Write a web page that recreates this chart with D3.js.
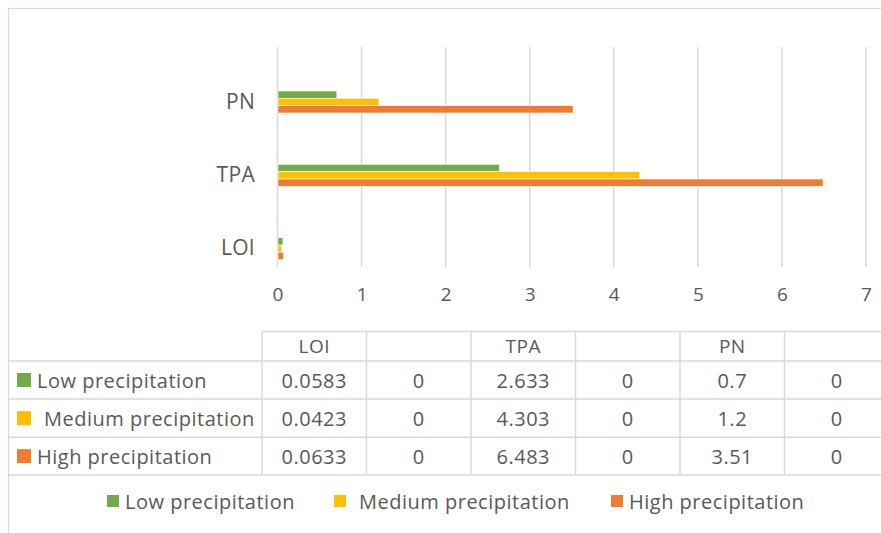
<!DOCTYPE html>
<html>
<head>
<meta charset="utf-8">
<script src="https://cdn.jsdelivr.net/npm/d3@7/dist/d3.min.js"></script>
<style>
  html, body { margin: 0; padding: 0; background: #fff; }
  svg { display: block; }
  text { font-family: "Open Sans", sans-serif; fill: #595959; }
</style>
</head>
<body>
<svg id="chart" width="881" height="533"></svg>
<script>
// ---- data ----
const categories = ["LOI", "", "TPA", "", "PN", ""];
const seriesNames = ["Low precipitation", "Medium precipitation", "High precipitation"];
const lowValues = [0.0583, 0, 2.633, 0, 0.7, 0];
const mediumValues = [0.0423, 0, 4.303, 0, 1.2, 0];
const highValues = [0.0633, 0, 6.483, 0, 3.51, 0];
const xTicks = [0, 1, 2, 3, 4, 5, 6, 7];
const seriesColors = ["#70AD47", "#FFC000", "#ED7D31"];

const seriesValues = [lowValues, mediumValues, highValues];
const catKeys = categories.map((c, i) => i + ":" + c);

const svg = d3.select("#chart");
const FS = "20px", LS = "0.5px";

// outer chart border
svg.append("rect").attr("x", 8.5).attr("y", 8.5).attr("width", 900).attr("height", 560)
  .attr("fill", "none").attr("stroke", "#D9D9D9").attr("stroke-width", 1.2);

// scales
const x = d3.scaleLinear().domain([0, 7]).range([277.5, 866]);
const y = d3.scaleBand().domain(catKeys).range([267, 47]);
const groupH = y.bandwidth() * 0.6;
const inner = d3.scaleBand().domain(seriesNames).range([0, groupH]);

// gridlines
svg.append("g").selectAll("line").data(xTicks).join("line")
  .attr("x1", d => x(d)).attr("x2", d => x(d))
  .attr("y1", 47).attr("y2", 267)
  .attr("stroke", "#D9D9D9").attr("stroke-width", 1.5);

// bars
seriesNames.forEach((s, si) => {
  svg.append("g").selectAll("rect").data(seriesValues[si].map((v, i) => ({ v, k: catKeys[i] })))
    .join("rect")
    .attr("x", x(0) + 0.5)
    .attr("y", d => y(d.k) + (y.bandwidth() - groupH) / 2 + inner(s))
    .attr("width", d => Math.max(0, x(d.v) - x(0)))
    .attr("height", inner.bandwidth())
    .attr("fill", seriesColors[si])
    .attr("stroke", d => d.v > 0 ? "#fff" : "none").attr("stroke-width", 0.6);
});

// y axis labels
const yAxis = d3.axisLeft(y).tickSize(0).tickPadding(0).tickFormat(k => k.split(":")[1]);
const yg = svg.append("g").attr("transform", "translate(255,0)").call(yAxis);
yg.select(".domain").remove();
yg.selectAll("text").style("font-size", "21px").style("letter-spacing", "0.3px").attr("fill", "#595959")
  .style("font-family", "'Open Sans', sans-serif");

// x axis labels
const xAxis = d3.axisBottom(x).tickValues(xTicks).tickSize(0).tickPadding(0).tickFormat(d3.format("d"));
const xg = svg.append("g").attr("transform", "translate(0,287)").call(xAxis);
xg.select(".domain").remove();
xg.selectAll("text").style("font-size", "19px").attr("fill", "#595959")
  .style("font-family", "'Open Sans', sans-serif");

// data table
const colEdges = d3.range(7).map(i => 262 + i * 104.5);
const rowEdges = [331.5, 361, 399, 437.3, 475];
const tg = svg.append("g");
// horizontal lines
tg.append("line").attr("x1", 262).attr("x2", 881).attr("y1", rowEdges[0]).attr("y2", rowEdges[0])
  .attr("stroke", "#D9D9D9").attr("stroke-width", 1.5);
rowEdges.slice(1).forEach(yy => {
  tg.append("line").attr("x1", 8).attr("x2", 881).attr("y1", yy).attr("y2", yy)
    .attr("stroke", "#D9D9D9").attr("stroke-width", 1.5);
});
// vertical lines
colEdges.slice(0, 6).forEach(xx => {
  tg.append("line").attr("x1", xx).attr("x2", xx).attr("y1", rowEdges[0]).attr("y2", rowEdges[4])
    .attr("stroke", "#D9D9D9").attr("stroke-width", 1.5);
});
// header
categories.forEach((c, i) => {
  tg.append("text").attr("x", (colEdges[i] + colEdges[i + 1]) / 2).attr("y", (rowEdges[0] + rowEdges[1]) / 2)
    .attr("text-anchor", "middle").attr("dominant-baseline", "central")
    .style("font-size", "19px").style("letter-spacing", LS).text(c);
});
// rows
seriesNames.forEach((s, si) => {
  const cy = (rowEdges[si + 1] + rowEdges[si + 2]) / 2;
  tg.append("rect").attr("x", 17).attr("y", cy - 7).attr("width", 14).attr("height", 14)
    .attr("fill", seriesColors[si]);
  tg.append("text").attr("x", si === 1 ? 44 : 37).attr("y", cy).attr("dominant-baseline", "central")
    .style("font-size", FS).style("letter-spacing", LS).text(s);
  seriesValues[si].forEach((v, i) => {
    tg.append("text").attr("x", (colEdges[i] + colEdges[i + 1]) / 2).attr("y", cy)
      .attr("text-anchor", "middle").attr("dominant-baseline", "central")
      .style("font-size", FS).style("letter-spacing", LS).text(String(v));
  });
});

// legend
const legendX = [107, 334, 611];
const lg = svg.append("g");
seriesNames.forEach((s, si) => {
  lg.append("rect").attr("x", legendX[si]).attr("y", 495).attr("width", 12).attr("height", 12)
    .attr("fill", seriesColors[si]);
  lg.append("text").attr("x", legendX[si] + (si === 1 ? 25 : 18)).attr("y", 501).attr("dominant-baseline", "central")
    .style("font-size", FS).style("letter-spacing", LS).text(s);
});
</script>
</body>
</html>
